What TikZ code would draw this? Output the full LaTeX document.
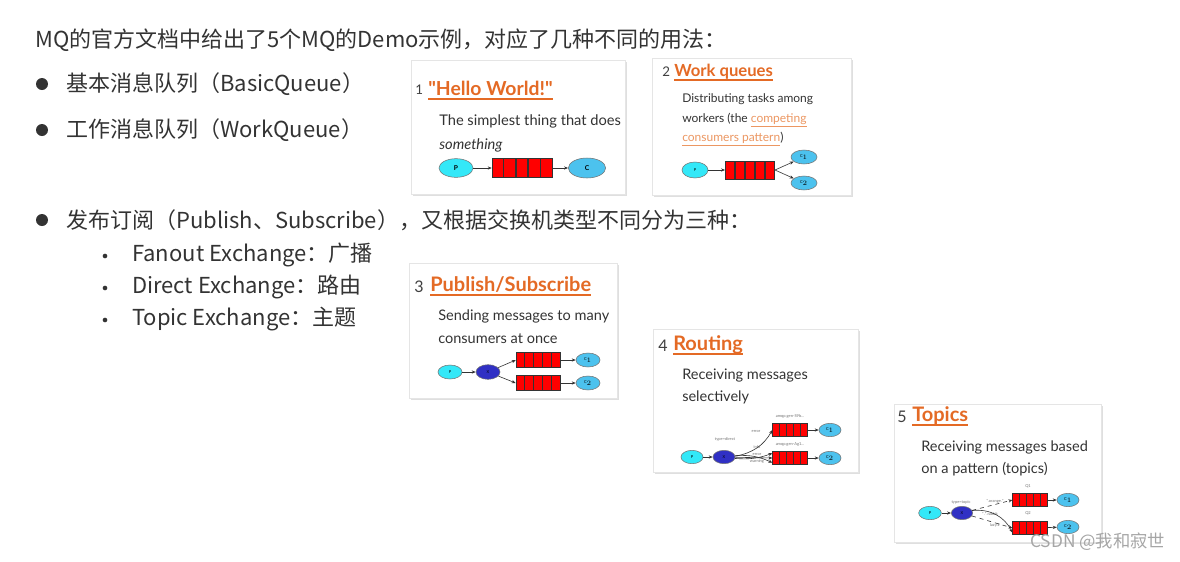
\documentclass[tikz,border=0pt]{standalone}
\usepackage{fontspec}
\setmainfont{Noto Sans CJK SC}
\newfontfamily\lato{Lato}
\usetikzlibrary{shapes.geometric,shadows,calc,arrows.meta}

\definecolor{testo}{HTML}{333333}
\definecolor{arancio}{HTML}{E46A25}
\definecolor{link}{HTML}{EC9762}
\definecolor{ciano}{HTML}{33E8F8}
\definecolor{azzurro}{HTML}{4CC2EE}
\definecolor{blu}{HTML}{3030C4}

% celle di una coda
\newcommand{\celle}[1]{%
  \foreach \f in {0.2,0.4,0.6,0.8}
    \draw[black!80, line width=0.9pt] ($(#1.south west)!\f!(#1.south east)$) -- ($(#1.north west)!\f!(#1.north east)$);}

\tikzset{
  testo/.style={anchor=west, inner sep=0pt, text=testo, font=\fontsize{16.5}{19}\selectfont},
  punto/.style={circle, fill=testo, inner sep=0pt, minimum size=9pt},
  puntino/.style={circle, fill=testo, inner sep=0pt, minimum size=3.5pt},
  scheda/.style={draw=black!10, fill=white, drop shadow={opacity=0.25, shadow xshift=1.2pt, shadow yshift=-1.2pt}},
  num/.style={anchor=base west, inner sep=0pt, text=black!75, font=\lato\fontsize{10}{12}\selectfont},
  titolo/.style={anchor=base west, inner sep=0pt, text=arancio, font=\lato\bfseries\fontsize{15}{17}\selectfont},
  desc/.style={anchor=base west, inner sep=0pt, text=black!80, font=\lato\fontsize{10.9}{12}\selectfont},
  prod/.style={ellipse, draw=black!55, fill=ciano, inner sep=0pt, font=\lato\fontsize{3}{3}\selectfont},
  cons/.style={ellipse, draw=black!55, fill=azzurro, inner sep=0pt, font=\lato\fontsize{3}{3}\selectfont},
  scambio/.style={ellipse, draw=black!55, fill=blu, inner sep=0pt, font=\lato\fontsize{3}{3}\selectfont},
  coda/.style={draw=black!80, fill=red, inner sep=0pt},
  freccia/.style={-{Stealth[length=3pt,width=2.4pt]}, black!80, line width=0.45pt},
  minuscolo/.style={inner sep=0.4pt, text=black!55, font=\lato\fontsize{3}{3.5}\selectfont},
}

\begin{document}
\begin{tikzpicture}[x=0.75pt,y=-0.75pt]
\useasboundingbox (0,0) rectangle (1180,561);

% Testo principale
\node[testo] (intro) at (35,40) {MQ的官方文档中给出了5个MQ的Demo示例，对应了几种不同的用法：};
\node[punto] (b1) at (42,84) {};
\node[testo] (l1) at (66,84) {基本消息队列（BasicQueue）};
\node[punto] (b2) at (42,130) {};
\node[testo] (l2) at (66,130) {工作消息队列（WorkQueue）};
\node[punto] (b3) at (42,220) {};
\node[testo] (l3) at (66,220) {发布订阅（Publish、Subscribe），又根据交换机类型不同分为三种：};
\node[puntino] (s1) at (105,256) {};
\node[testo] (l4) at (132,255) {Fanout Exchange：广播};
\node[puntino] (s2) at (105,288) {};
\node[testo] (l5) at (132,287) {Direct Exchange：路由};
\node[puntino] (s3) at (105,320) {};
\node[testo] (l6) at (132,319) {Topic Exchange：主题};

% Schede
\draw[scheda] (411,60) rectangle (625,194);
\draw[scheda] (652,58) rectangle (851,195);
\draw[scheda] (409,263) rectangle (617,398);
\draw[scheda] (653,329) rectangle (858,472);
\draw[scheda] (894,404) rectangle (1101,542);

% 1 Hello World
\node[num] (n1) at (415,94) {1};
\node[titolo, font=\lato\bfseries\fontsize{14.5}{17}\selectfont] (t1) at (428,95) {"Hello World!"};
\draw[arancio, line width=1.2pt] ($(t1.base west)+(0,4)$) -- ($(t1.base east)+(0,4)$);
\node[desc, font=\lato\fontsize{11}{12}\selectfont] (d11) at (439,125) {The simplest thing that does};
\node[desc, font=\lato\itshape\fontsize{11}{12}\selectfont] (d12) at (439,149) {something};
\node[prod, minimum width=25.5pt, minimum height=14pt, font=\lato\bfseries\fontsize{5}{5}\selectfont] (p1) at (456,168) {P};
\node[coda, minimum width=45pt, minimum height=14pt] (q1) at (522,168) {};
\celle{q1}
\node[cons, minimum width=28pt, minimum height=15pt, font=\lato\bfseries\fontsize{5}{5}\selectfont] (c1) at (587,168) {C};
\draw[freccia] (p1) -- (q1);
\draw[freccia] (q1) -- (c1);

% 2 Work queues
\node[num] (n2) at (662,76) {2};
\node[titolo, font=\lato\bfseries\fontsize{12.5}{14}\selectfont] (t2) at (674,76) {Work queues};
\draw[arancio, line width=1pt] ($(t2.base west)+(0,4)$) -- ($(t2.base east)+(0,4)$);
\node[desc, font=\lato\fontsize{9}{10}\selectfont] (d21) at (682,102) {Distributing tasks among};
\node[desc, font=\lato\fontsize{9}{10}\selectfont] (d22) at (682,122) {workers (the \textcolor{link}{\underline{competing}}};
\node[desc, font=\lato\fontsize{9}{10}\selectfont] (d23) at (682,141) {\textcolor{link}{\underline{consumers pattern}})};
\node[prod, minimum width=19.5pt, minimum height=12pt] (p2) at (695,170) {P};
\node[coda, minimum width=37pt, minimum height=13.5pt] (q2) at (750,170) {};
\celle{q2}
\node[cons, minimum width=19.5pt, minimum height=10.5pt] (c21) at (804,157) {C$_1$};
\node[cons, minimum width=19.5pt, minimum height=10.5pt] (c22) at (804,183) {C$_2$};
\draw[freccia] (p2) -- (q2);
\draw[freccia] (q2.east) -- (c21);
\draw[freccia] (q2.east) -- (c22);

% 3 Publish/Subscribe
\node[num, font=\lato\fontsize{12}{14}\selectfont] (n3) at (414,292) {3};
\node[titolo] (t3) at (430,291) {Publish/Subscribe};
\draw[arancio, line width=1.2pt] ($(t3.base west)+(0,4)$) -- ($(t3.base east)+(0,4)$);
\node[desc] (d31) at (438,320) {Sending messages to many};
\node[desc] (d32) at (438,343) {consumers at once};
\node[prod, minimum width=18pt, minimum height=10.5pt] (p3) at (450,372) {P};
\node[scambio, minimum width=18pt, minimum height=11pt] (x3) at (488,372) {X};
\node[coda, minimum width=33pt, minimum height=11pt] (q31) at (538,360) {};
\node[coda, minimum width=33pt, minimum height=11pt] (q32) at (538,383) {};
\celle{q31} \celle{q32}
\node[cons, minimum width=18pt, minimum height=10.5pt] (c31) at (588,360) {C$_1$};
\node[cons, minimum width=18pt, minimum height=10.5pt] (c32) at (588,383) {C$_2$};
\draw[freccia] (p3) -- (x3);
\draw[freccia] (x3) -- (q31.west);
\draw[freccia] (x3) -- (q32.west);
\draw[freccia] (q31) -- (c31);
\draw[freccia] (q32) -- (c32);

% 4 Routing
\node[num, font=\lato\fontsize{12}{14}\selectfont] (n4) at (658,351) {4};
\node[titolo] (t4) at (673,350) {Routing};
\draw[arancio, line width=1.2pt] ($(t4.base west)+(0,4)$) -- ($(t4.base east)+(0,4)$);
\node[desc] (d41) at (682,379) {Receiving messages};
\node[desc] (d42) at (682,401) {selectively};
\node[prod, minimum width=16.5pt, minimum height=10pt] (p4) at (692,457) {P};
\node[scambio, minimum width=16.5pt, minimum height=10pt] (x4) at (724,457) {X};
\node[coda, minimum width=26pt, minimum height=10pt] (q41) at (790,430) {};
\node[coda, minimum width=26pt, minimum height=10pt] (q42) at (790,458) {};
\celle{q41} \celle{q42}
\node[cons, minimum width=16.5pt, minimum height=10pt] (c41) at (830,430) {C$_1$};
\node[cons, minimum width=16.5pt, minimum height=10pt] (c42) at (830,458) {C$_2$};
\node[minuscolo] (tp4) at (725,439) {type=direct};
\node[minuscolo] (a41) at (790,416) {amqp.gen-S9b...};
\node[minuscolo] (a42) at (790,444) {amqp.gen-Ag1...};
\node[minuscolo] (e41) at (756,431) {error};
\node[minuscolo] (e42) at (757,447.5) {info};
\node[minuscolo] (e43) at (757,454) {error};
\node[minuscolo] (e44) at (757,461) {warning};
\draw[freccia] (p4) -- (x4);
\draw[freccia] (x4) to[bend right=25] (q41.west);
\draw[freccia] (x4) to[bend right=12] (q42.165);
\draw[freccia] (x4) -- (q42.west);
\draw[freccia] (x4) to[bend left=14] (q42.195);
\draw[freccia] (q41) -- (c41);
\draw[freccia] (q42) -- (c42);

% 5 Topics
\node[num, font=\lato\fontsize{12}{14}\selectfont] (n5) at (897,422) {5};
\node[titolo] (t5) at (912,421) {Topics};
\draw[arancio, line width=1.2pt] ($(t5.base west)+(0,4)$) -- ($(t5.base east)+(0,4)$);
\node[desc] (d51) at (921,451) {Receiving messages based};
\node[desc] (d52) at (921,473) {on a pattern (topics)};
\node[prod, minimum width=17pt, minimum height=10pt] (p5) at (930,513) {P};
\node[scambio, minimum width=16pt, minimum height=10pt] (x5) at (962,513) {X};
\node[coda, minimum width=26pt, minimum height=10pt] (q51) at (1030,500) {};
\node[coda, minimum width=26pt, minimum height=10pt] (q52) at (1030,528) {};
\celle{q51} \celle{q52}
\node[cons, minimum width=16.5pt, minimum height=10pt] (c51) at (1068,500) {C$_1$};
\node[cons, minimum width=16.5pt, minimum height=10pt] (c52) at (1068,527) {C$_2$};
\node[minuscolo] (tp5) at (961,502) {type=topic};
\node[minuscolo] (a51) at (1028,486) {Q1};
\node[minuscolo] (a52) at (1028,513) {Q2};
\node[minuscolo] (e51) at (995,501) {*.orange.*};
\node[minuscolo] (e52) at (990,514) {*.*.rabbit};
\node[minuscolo] (e53) at (995,525) {lazy.\#};
\draw[freccia] (p5) -- (x5);
\draw[freccia, dashed] (x5) -- (q51.west);
\draw[freccia, dashed] (x5) -- (q52.west);
\draw[freccia] (x5) to[bend left=35] (q52.195);
\draw[freccia] (q51) -- (c51);
\draw[freccia] (q52) -- (c52);

% Filigrana
\node[anchor=west, inner sep=0pt, text=black!35, font=\fontsize{13}{15}\selectfont] (wm) at (1030,542) {CSDN @我和寂世};
\end{tikzpicture}
\end{document}
